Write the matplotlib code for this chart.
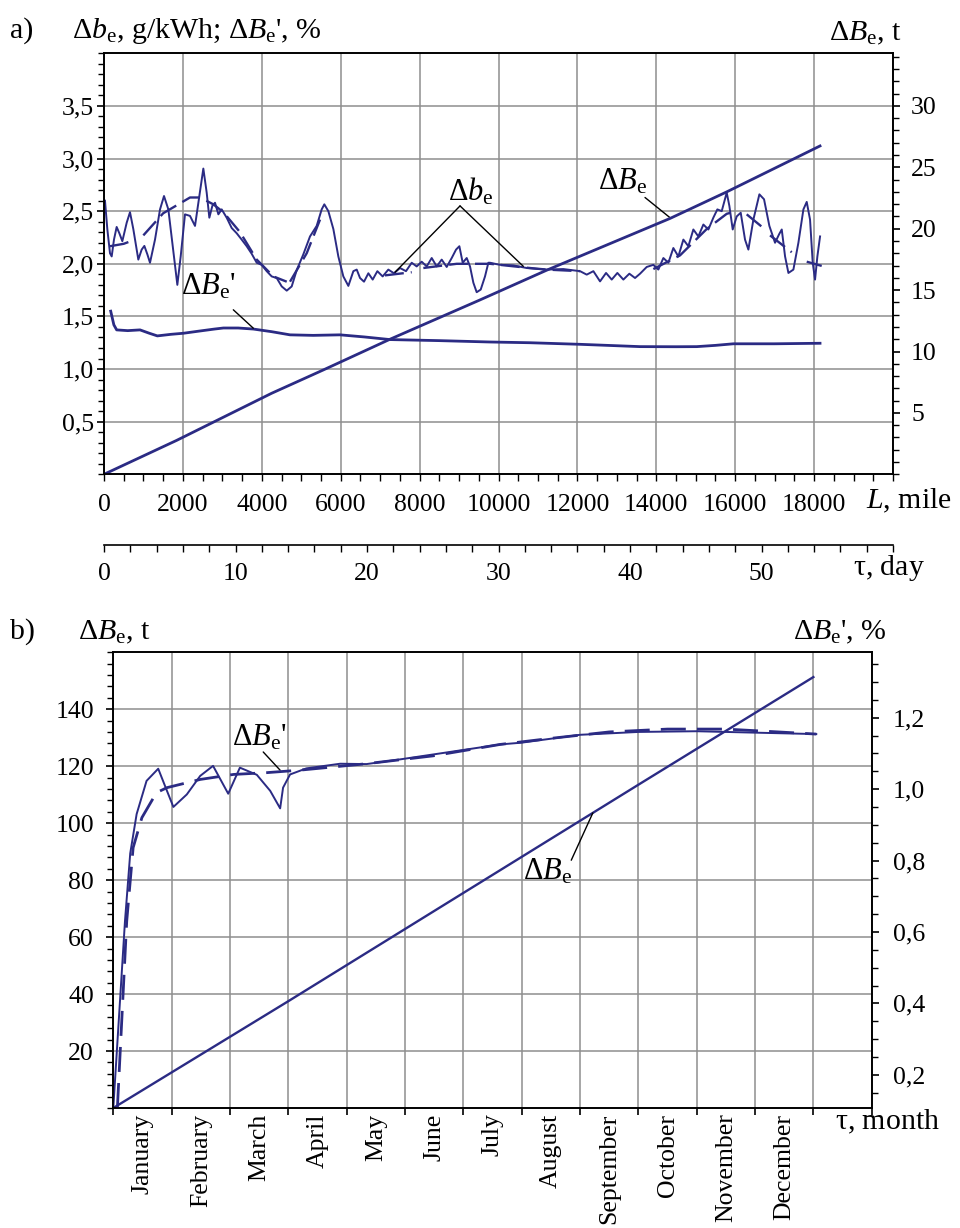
import numpy as np
import matplotlib.pyplot as plt
from matplotlib.ticker import MultipleLocator, FixedLocator, FuncFormatter

plt.rcParams['font.family'] = ['Liberation Serif', 'DejaVu Serif']
plt.rcParams['mathtext.fontset'] = 'custom'
plt.rcParams['mathtext.rm'] = 'Liberation Serif'
plt.rcParams['mathtext.it'] = 'Liberation Serif:italic'
plt.rcParams['mathtext.bf'] = 'Liberation Serif:bold'

NAVY = '#2b2b84'
GRID = '#8e8e8e'
FS = 18.5      # tick labels
FS_AX = 21.5   # axis titles
FS_CV = 22     # curve names

# ---- a) run in miles ----
# fuel consumption deviation, g/kWh (measured)
mile_db = [25, 84, 152, 195, 253, 321, 389, 465, 575, 659, 743, 870, 955, 1023, 1099, 1166,
           1293, 1420, 1521, 1631, 1741, 1859, 1944, 2053, 2180, 2307, 2417, 2518, 2603, 2670,
           2746, 2814, 2899, 2983, 3110, 3237, 3364, 3490, 3617, 3744, 3871, 3997, 4124, 4251,
           4378, 4505, 4632, 4758, 4885, 5053, 5222, 5391, 5518, 5585, 5687, 5814, 5940, 6067,
           6194, 6321, 6406, 6490, 6591, 6701, 6811, 6929, 7064, 7207, 7351, 7503, 7655, 7800,
           7926, 8053, 8180, 8307, 8434, 8560, 8687, 8814, 8924, 9008, 9093, 9194, 9278, 9363,
           9447, 9549, 9658, 9743, 9785, 10039, 10376, 10714, 11221, 11644, 12067, 12236, 12405,
           12574, 12726, 12870, 13013, 13165, 13317, 13461, 13588, 13757, 13925, 14052, 14179,
           14306, 14432, 14559, 14686, 14813, 14939, 15066, 15193, 15320, 15446, 15548, 15658,
           15785, 15852, 15937, 16038, 16140, 16249, 16334, 16461, 16613, 16731, 16866, 17010,
           17112, 17180, 17264, 17349, 17475, 17602, 17729, 17813, 17897, 17965, 18024, 18083,
           18151]
db = [2.60, 2.33, 2.10, 2.07, 2.23, 2.35, 2.29, 2.215, 2.39, 2.49, 2.33, 2.04, 2.135, 2.17,
      2.09, 2.01, 2.23, 2.517, 2.644, 2.517, 2.167, 1.80, 2.07, 2.47, 2.455, 2.36, 2.644, 2.905,
      2.676, 2.438, 2.55, 2.58, 2.47, 2.517, 2.438, 2.34, 2.29, 2.23, 2.167, 2.095, 2.01, 1.99,
      1.93, 1.88, 1.865, 1.785, 1.745, 1.785, 1.94, 2.09, 2.26, 2.36, 2.517, 2.565, 2.50, 2.33,
      2.07, 1.88, 1.79, 1.93, 1.945, 1.865, 1.83, 1.91, 1.85, 1.93, 1.88, 1.945, 1.91, 1.96,
      1.93, 2.01, 1.975, 2.02, 1.975, 2.055, 1.975, 2.04, 1.97, 2.055, 2.135, 2.167, 2.01,
      2.055, 1.975, 1.82, 1.73, 1.755, 1.88, 2.01, 2.01, 1.99, 1.985, 1.96, 1.945, 1.95, 1.93,
      1.897, 1.93, 1.833, 1.913, 1.85, 1.913, 1.85, 1.906, 1.865, 1.906, 1.97, 1.99, 1.945,
      2.055, 2.01, 2.15, 2.07, 2.23, 2.167, 2.326, 2.26, 2.373, 2.326, 2.438, 2.517, 2.50,
      2.676, 2.55, 2.326, 2.45, 2.485, 2.23, 2.135, 2.42, 2.66, 2.613, 2.36, 2.20, 2.28, 2.326,
      2.07, 1.913, 1.945, 2.20, 2.517, 2.588, 2.42, 2.01, 1.85, 2.07, 2.26]

# smoothed pieces of the same deviation (NaN breaks the pieces)
mile_db_fit = [152, 500, 786, np.nan,
               997, 1500, 2180, 2434, 2772, 3026, 3449, 3871, 4294, 4632, np.nan,
               4715, 5138, 5476, np.nan,
               7123, 7800, np.nan,
               8095, 8940, 9785, 10630, 11221, 12067, np.nan,
               13925, 14601, 15277, 15785, 16038, np.nan,
               16291, 16714, np.nan,
               16883, 17433, np.nan,
               17813, 18193]
db_fit = [2.167, 2.19, 2.23, np.nan,
          2.27, 2.48, 2.63, 2.63, 2.565, 2.49, 2.30, 2.04, 1.88, 1.83, np.nan,
          1.83, 2.10, 2.42, np.nan,
          1.89, 1.92, np.nan,
          1.96, 2.0, 2.0, 1.966, 1.945, 1.93, np.nan,
          1.95, 2.08, 2.33, 2.475, 2.50, np.nan,
          2.47, 2.34, np.nan,
          2.27, 2.11, np.nan,
          2.02, 1.98]

# relative fuel overrun, %
mile_dBp = [170, 250, 321, 600, 913, 1150, 1352, 1700, 2011, 2400, 2800, 3026, 3400, 3787,
            4250, 4715, 5300, 5983, 6600, 7250, 8500, 9785, 10800, 12065, 13590, 14500, 15025,
            15500, 15955, 17000, 18150]
dBp_a = [1.55, 1.42, 1.372, 1.365, 1.372, 1.34, 1.315, 1.33, 1.34, 1.36, 1.38, 1.39, 1.39,
         1.38, 1.355, 1.325, 1.32, 1.325, 1.305, 1.28, 1.27, 1.257, 1.25, 1.235, 1.213, 1.212,
         1.213, 1.225, 1.24, 1.24, 1.245]

# fuel overrun, t
mile_dB = [0, 1840, 4250, 5560, 7250, 9530, 11220, 14350, 15785, 18150]
dB_a = [0, 2.76, 6.6, 8.5, 11.0, 14.2, 16.62, 20.84, 23.0, 26.74]

day_ticks = [0, 10, 20, 30, 40, 50]

# ---- b) year in months ----
months = ['January', 'February', 'March', 'April', 'May', 'June', 'July', 'August',
          'September', 'October', 'November', 'December']

month_dB = [0, 3, 6, 9, 12]
dB_b = [0, 37.5, 75.5, 113.5, 151.3]

month_dBp = [0, 0.2, 0.29, 0.40, 0.57, 0.77, 0.92, 1.03, 1.26, 1.49, 1.71, 1.97, 2.17, 2.46,
             2.69, 2.86, 2.91, 3.03, 3.31, 3.89, 4.34, 4.91, 6.06, 6.63, 7.0, 8.0, 9.0, 10.0,
             11.0, 12.05]
dBp_b = [0.107, 0.63, 0.82, 0.93, 1.023, 1.057, 0.995, 0.95, 0.985, 1.037, 1.065, 0.987, 1.06,
         1.04, 0.995, 0.946, 1.004, 1.041, 1.058, 1.071, 1.07, 1.083, 1.111, 1.125, 1.13,
         1.152, 1.16, 1.162, 1.158, 1.154]

month_dBp_fit = [0.07, 0.23, 0.34, 0.49, 0.74, 0.92, 1.49, 2.06, 2.63, 3.2, 4.34, 5.48, 6.63,
                 7.5, 8.5, 9.5, 10.5, 11.4, 12.05]
dBp_b_fit = [0.107, 0.63, 0.836, 0.92, 0.99, 1.004, 1.027, 1.041, 1.046, 1.053, 1.071, 1.093,
             1.125, 1.142, 1.16, 1.168, 1.168, 1.16, 1.154]

W, H = 960, 1228


def fx(px):
    return px / W


def fy(py):
    return 1 - py / H


def comma(v, pos):
    return ('%.1f' % v).replace('.', ',')


fig = plt.figure(figsize=(9.6, 12.28), dpi=100)

# ================= a) =================
ax = fig.add_axes([fx(104), fy(474.3), fx(893) - fx(104), fy(53.3) - fy(474.3)])
ax.set_xlim(0, 20000)
ax.set_ylim(0, 4.0)
axr = ax.twinx()
axr.set_ylim(0, 4.0 * 30 / 3.5)

ax.set_xticks(np.arange(0, 20001, 2000))
ax.xaxis.set_major_formatter(FuncFormatter(lambda v, p: '' if v > 19000 else '%d' % v))
ax.xaxis.set_minor_locator(MultipleLocator(500))
ax.yaxis.set_major_locator(FixedLocator(np.arange(0.5, 3.51, 0.5)))
ax.yaxis.set_major_formatter(FuncFormatter(comma))
ax.yaxis.set_minor_locator(MultipleLocator(0.1))
axr.yaxis.set_major_locator(FixedLocator(np.arange(5, 31, 5)))
axr.yaxis.set_minor_locator(MultipleLocator(1))

ax.grid(which='major', color=GRID, lw=1.1)
ax.tick_params(axis='x', which='both', direction='out', length=5, width=1, pad=9, labelsize=FS)
ax.tick_params(axis='y', which='major', direction='out', length=5, width=1.2, pad=2, labelsize=FS)
ax.tick_params(axis='y', which='minor', direction='out', length=4, width=1)
axr.tick_params(axis='y', which='major', direction='out', length=5, width=1.2, pad=8, labelsize=FS)
axr.tick_params(axis='y', which='minor', direction='out', length=4, width=1)
for a in (ax, axr):
    for s in a.spines.values():
        s.set_linewidth(1.2)

ax.plot(mile_db, db, color=NAVY, lw=1.4)
ax.plot(mile_db_fit, db_fit, color=NAVY, lw=1.7, dashes=(8, 3))
ax.plot(mile_dBp, dBp_a, color=NAVY, lw=2.0)
axr.plot(mile_dB, dB_a, color=NAVY, lw=2.0)

lab = dict(fontsize=FS_CV, ha='center', va='center')
leader = dict(arrowstyle='-', color='black', lw=1.0, shrinkA=0, shrinkB=0)
ax.text(9300, 2.68, r'$\Delta b_{\mathrm{e}}$', **lab)
ax.annotate('', xy=(7377, 1.92), xytext=(9025, 2.55), arrowprops=leader)
ax.annotate('', xy=(10629, 1.976), xytext=(9025, 2.55), arrowprops=leader)
ax.text(2650, 1.78, r"$\Delta B_{\mathrm{e}}$'", **lab)
ax.annotate('', xy=(3785, 1.388), xytext=(3278, 1.563), arrowprops=leader)
ax.text(13150, 2.78, r'$\Delta B_{\mathrm{e}}$', **lab)
ax.annotate('', xy=(14348, 2.438), xytext=(13714, 2.63), arrowprops=leader)

fig.text(fx(10), fy(31), 'a)', fontsize=FS_AX, va='center')
fig.text(fx(72), fy(31), r"$\Delta b_{\mathrm{e}}$, g/kWh; $\Delta B_{\mathrm{e}}$', %",
         fontsize=FS_AX, va='center')
fig.text(fx(829), fy(33), r'$\Delta B_{\mathrm{e}}$, t', fontsize=FS_AX, va='center')
fig.text(fx(866), fy(501), r'$L$, mile', fontsize=FS_AX, va='center')

# day scale under the mileage scale
axt = fig.add_axes([fx(104), fy(545), fx(893) - fx(104), 0.0001])
axt.set_xlim(0, 60)
axt.set_ylim(0, 1)
for k in ('left', 'right', 'top'):
    axt.spines[k].set_visible(False)
axt.spines['bottom'].set_linewidth(1.2)
axt.set_yticks([])
axt.set_xticks(day_ticks + [60])
axt.set_xticklabels([str(d) for d in day_ticks] + [''])
axt.xaxis.set_minor_locator(MultipleLocator(2))
axt.tick_params(axis='x', which='both', direction='out', length=5, width=1, pad=8, labelsize=FS)
axt.patch.set_visible(False)
fig.text(fx(853), fy(568), r'$\mathrm{\tau}$, day', fontsize=FS_AX, va='center')

# ================= b) =================
bx = fig.add_axes([fx(113.3), fy(1108), fx(871.7) - fx(113.3), fy(652.3) - fy(1108)])
bx.set_xlim(0, 13)
bx.set_ylim(0, 160)
bxr = bx.twinx()
bxr.set_ylim(0.107, 1.383)

bx.set_xticks(np.arange(0, 14, 1))
bx.set_xticklabels([])
bx.set_xticks(np.arange(12) + 0.5, minor=True)
bx.set_xticklabels(months, minor=True, rotation=90, fontsize=FS)
bx.tick_params(axis='x', which='major', direction='out', length=5, width=1.2)
bx.tick_params(axis='x', which='minor', length=0, pad=4)
bx.yaxis.set_major_locator(FixedLocator(np.arange(20, 141, 20)))
bx.yaxis.set_minor_locator(MultipleLocator(4))
bx.tick_params(axis='y', which='major', direction='out', length=5, width=1.2, pad=9, labelsize=FS)
bx.tick_params(axis='y', which='minor', direction='out', length=4, width=1)
bxr.yaxis.set_major_locator(FixedLocator([0.2, 0.4, 0.6, 0.8, 1.0, 1.2]))
bxr.yaxis.set_major_formatter(FuncFormatter(comma))
bxr.yaxis.set_minor_locator(FixedLocator(np.arange(0.15, 1.38, 0.05)))
bxr.tick_params(axis='y', which='major', direction='out', length=5, width=1.2, pad=10, labelsize=FS)
bxr.tick_params(axis='y', which='minor', direction='out', length=4, width=1)
bx.grid(which='major', color=GRID, lw=1.1)
for a in (bx, bxr):
    for s in a.spines.values():
        s.set_linewidth(1.2)

bx.plot(month_dB, dB_b, color=NAVY, lw=1.7)
bxr.plot(month_dBp, dBp_b, color=NAVY, lw=1.4)
bxr.plot(month_dBp_fit, dBp_b_fit, color=NAVY, lw=2.0, dashes=(9, 4))

bx.text(2.5, 130, r"$\Delta B_{\mathrm{e}}$'", **lab)
bx.annotate('', xy=(2.86, 118.6), xytext=(2.57, 125), arrowprops=leader)
bx.text(7.45, 83, r'$\Delta B_{\mathrm{e}}$', **lab)
bx.annotate('', xy=(8.22, 103.6), xytext=(7.85, 87), arrowprops=leader)

fig.text(fx(10), fy(632), 'b)', fontsize=FS_AX, va='center')
fig.text(fx(78), fy(632), r'$\Delta B_{\mathrm{e}}$, t', fontsize=FS_AX, va='center')
fig.text(fx(793), fy(632), r"$\Delta B_{\mathrm{e}}$', %", fontsize=FS_AX, va='center')
fig.text(fx(835), fy(1122), r'$\mathrm{\tau}$, month', fontsize=FS_AX, va='center')

fig.savefig('out.png', dpi=100)
